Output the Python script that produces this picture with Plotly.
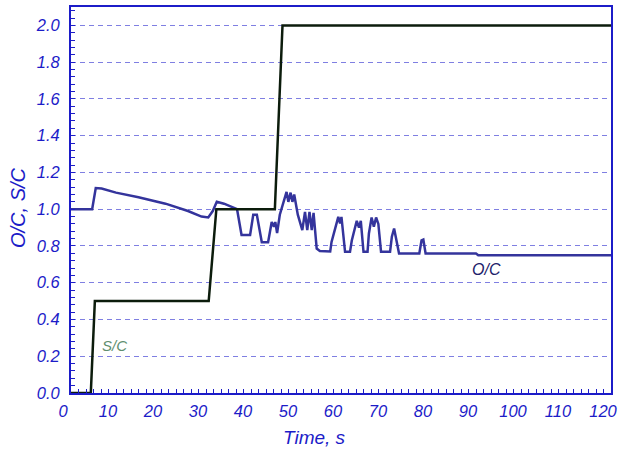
import plotly.graph_objects as go

# O/C series (time s, value)
oc_time = [0, 4.7, 5.5, 6.8, 10, 15, 21, 26, 29, 30.5, 31.5, 32.4, 34, 35.8, 36.9,
           37.9, 39.8, 40.5, 41.3, 42.4, 43.8, 44.6, 45.1, 45.4, 45.8, 46.4, 47.9, 48.3, 48.8,
           49.2, 49.6, 50.4, 51.4, 52.0, 52.5, 53.0, 53.5, 53.9, 54.6, 55.3, 56.0, 57.6,
           57.9, 58.5, 59.4, 59.8, 60.1, 60.9, 62.0, 62.4, 62.8, 63.5, 64.0, 64.4, 65.0,
           65.9, 66.2, 66.8, 67.3, 67.8, 68.3, 68.9, 70.9, 71.3, 71.8, 72.3, 72.9, 77.4,
           77.9, 78.3, 78.8, 90, 90.5, 120]
oc_value = [1.0, 1.0, 1.115, 1.112, 1.09, 1.065, 1.03, 0.99, 0.96, 0.955, 0.99, 1.04, 1.03, 1.01, 1.0,
            0.86, 0.86, 0.97, 0.97, 0.82, 0.82, 0.93, 0.905, 0.93, 0.87, 0.97, 1.094, 1.04, 1.09,
            1.04, 1.08, 0.97, 0.886, 0.985, 0.886, 0.985, 0.886, 0.98, 0.786, 0.773, 0.773, 0.77,
            0.822, 0.88, 0.958, 0.922, 0.958, 0.768, 0.768, 0.83, 0.868, 0.937, 0.90, 0.937, 0.768,
            0.768, 0.868, 0.955, 0.905, 0.955, 0.92, 0.768, 0.768, 0.85, 0.895, 0.83, 0.759, 0.759,
            0.83, 0.835, 0.759, 0.759, 0.75, 0.75]

# S/C series
sc_time = [0, 4.4, 5.3, 30.6, 32.3, 45.3, 47.0, 120]
sc_value = [0, 0, 0.5, 0.5, 1.0, 1.0, 2.0, 2.0]

x_ticks = [0, 10, 20, 30, 40, 50, 60, 70, 80, 90, 100, 110, 120]
y_ticks = [0.0, 0.2, 0.4, 0.6, 0.8, 1.0, 1.2, 1.4, 1.6, 1.8, 2.0]

BLUE = "#1c1cc8"
FONT = "Liberation Sans"

fig = go.Figure()
fig.add_trace(go.Scatter(x=oc_time, y=oc_value, mode="lines", name="O/C",
                         line=dict(color="#34349c", width=2.5)))
fig.add_trace(go.Scatter(x=sc_time, y=sc_value, mode="lines", name="S/C",
                         line=dict(color="#0c1c0c", width=2.5)))

axis_common = dict(
    showline=True, linecolor=BLUE, linewidth=2, mirror=True,
    ticks="inside", ticklen=4, tickcolor=BLUE, tickwidth=1,
    tickfont=dict(family=FONT, size=16.5, color=BLUE, style="italic"),
    zeroline=False, automargin=False, ticklabeloverflow="allow",
)

fig.update_xaxes(range=[0, 120], tickvals=x_ticks, ticktext=[str(v) for v in x_ticks],
                 showgrid=False,
                 minor=dict(ticks="inside", ticklen=4, tickcolor=BLUE, dtick=10/6, showgrid=False),
                 ticklabelstandoff=2, ticklabelshift=-8,
                 **axis_common)
fig.update_yaxes(range=[0, 2.1], tickvals=y_ticks, ticktext=[f"{v:.1f}" for v in y_ticks],
                 showgrid=True, gridcolor="#7f7fe2", griddash="5px,4px", gridwidth=1.2,
                 minor=dict(ticks="inside", ticklen=4, tickcolor=BLUE, dtick=0.04, showgrid=False),
                 ticklabelstandoff=6,
                 **axis_common)

fig.add_annotation(x=9.6, y=0.26, text="S/C", showarrow=False,
                   font=dict(family=FONT, size=15, color="#5f8f6f", style="italic"))
fig.add_annotation(x=92.4, y=0.67, text="O/C", showarrow=False,
                   font=dict(family=FONT, size=16, color="#22226a", style="italic"))
fig.add_annotation(xref="paper", yref="paper", x=(314 - 71) / 540, y=(393 - 437) / 386,
                   xanchor="center", yanchor="middle",
                   text="Time, s", showarrow=False,
                   font=dict(family=FONT, size=19, color=BLUE, style="italic"))
fig.add_annotation(xref="paper", yref="paper", x=(18 - 71) / 540, y=(393 - 208) / 386,
                   xanchor="center", yanchor="middle",
                   text="O/C, S/C", showarrow=False, textangle=-90,
                   font=dict(family=FONT, size=20, color=BLUE, style="italic"))

fig.update_layout(
    width=618, height=455,
    margin=dict(l=71, r=7, t=7, b=62, autoexpand=False),
    paper_bgcolor="white", plot_bgcolor="white",
    showlegend=False,
)

# remove the page's default 8px body margin so the figure sits at the window origin
fig.write_html("out.html",
               config={"displayModeBar": False},
               post_script="document.body.style.margin='0';document.body.style.overflow='hidden';")
